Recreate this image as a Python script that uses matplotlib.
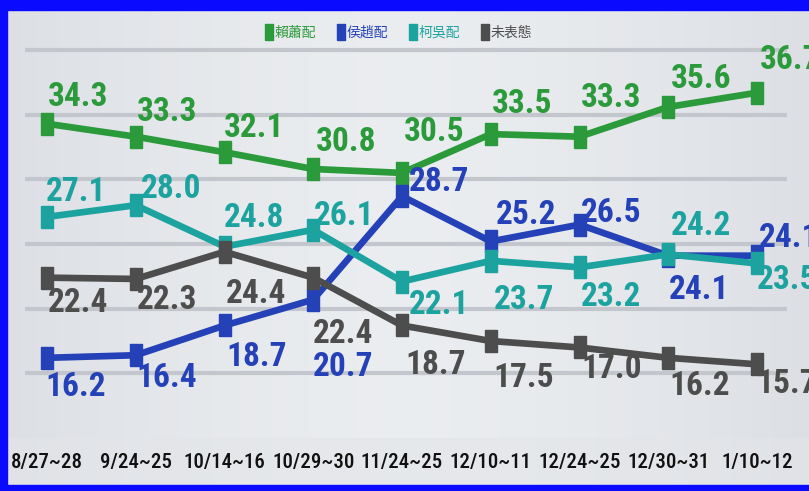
import numpy as np
import matplotlib.pyplot as plt
from matplotlib import font_manager as fm
from matplotlib.lines import Line2D
from matplotlib.patches import Rectangle
from matplotlib.path import Path

# 民調資料
fechas = ["8/27~28", "9/24~25", "10/14~16", "10/29~30", "11/24~25",
          "12/10~11", "12/24~25", "12/30~31", "1/10~12"]
nombres = ["賴蕭配", "侯趙配", "柯吳配", "未表態"]
lai = [34.3, 33.3, 32.1, 30.8, 30.5, 33.5, 33.3, 35.6, 36.7]
hou = [16.2, 16.4, 18.7, 20.7, 28.7, 25.2, 26.5, 24.1, 24.1]
ko = [27.1, 28.0, 24.8, 26.1, 22.1, 23.7, 23.2, 24.2, 23.5]
nada = [22.4, 22.3, 24.4, 22.4, 18.7, 17.5, 17.0, 16.2, 15.7]

colores = ["#2b9a3b", "#2541b8", "#1ca3a0", "#4d4d4d"]
series = [lai, hou, ko, nada]

# desplazamiento de las etiquetas (pixeles)
desp = [
    [(31, 27), (31, 25), (30, 24), (33, 27), (32, 41), (31, 30), (32, 39), (33, 28), (33, 33)],
    [(29, -29), (31, -23), (32, -32), (30, -67), (37, 14), (35, 26), (32, 12), (31, -34), (32, 18)],
    [(29, 25), (35, 16), (30, 29), (31, 14), (37, -23), (33, -39), (32, -30), (33, 28), (30, -17)],
    [(31, -25), (31, -21), (32, -42), (30, -56), (34, -40), (33, -37), (32, -22), (31, -28), (30, -20)],
]

# buscar una fuente estrecha
disponibles = {f.name for f in fm.fontManager.ttflist}
condensadas = [f for f in fm.fontManager.ttflist
               if "condensed" in str(f.stretch).lower() or "Condensed" in f.fname]
if "Liberation Sans Narrow" in disponibles:
    fuente, estiramiento, tam_num, tam_x = "Liberation Sans Narrow", "normal", 24, 15
elif "Roboto Condensed" in disponibles:
    fuente, estiramiento, tam_num, tam_x = "Roboto Condensed", "normal", 24, 15
elif any(f.name == "DejaVu Sans" for f in condensadas):
    fuente, estiramiento, tam_num, tam_x = "DejaVu Sans", "condensed", 21, 13
else:
    fuente, estiramiento, tam_num, tam_x = "DejaVu Sans", "normal", 18, 12

# marcador rectangular (mas alto que ancho)
rect = Path([(-6, -11), (6, -11), (6, 11), (-6, 11), (-6, -11)])

fig = plt.figure(figsize=(8.09, 4.91), dpi=100)
fig.patch.set_facecolor("#dcdfe5")

# fondo degradado
bg = fig.add_axes([0, 0, 1, 1], zorder=0)
xx = np.linspace(-1, 1, 400)
grad = 1 - 0.55 * np.abs(xx) ** 1.5
img = np.zeros((2, 400, 3))
c1 = np.array([0.82, 0.83, 0.86])
c2 = np.array([0.92, 0.93, 0.94])
for k in range(3):
    img[:, :, k] = c1[k] + (c2[k] - c1[k]) * grad
bg.imshow(img, aspect="auto", extent=[0, 1, 0, 1])
bg.add_patch(Rectangle((0, 0), 1, 53 / 491, color="#e3e5e9", alpha=0.6))
bg.set_xlim(0, 1)
bg.set_ylim(0, 1)
bg.axis("off")

ax = fig.add_axes([0, 53 / 491, 1, 438 / 491], zorder=1)
ax.patch.set_alpha(0)
x = np.arange(len(fechas))
ax.set_xlim(-47 / 88.75, 8 + 52 / 88.75)
ax.set_ylim(10, 43.87)

ax.hlines([15, 20, 25, 30, 35, 40], -0.25, 8.34, color="#c3c6cc", lw=3, zorder=1)

for s, col, d in zip(series, colores, desp):
    ax.plot(x, s, color=col, lw=4.8, marker=rect, markersize=16,
            solid_joinstyle="miter", zorder=3)
    for xi, v, (dx, dy) in zip(x, s, d):
        ax.annotate(f"{v:.1f}", (xi, v), xytext=(dx, dy), textcoords="offset pixels",
                    ha="center", va="center", color=col, fontsize=tam_num,
                    family=fuente, fontstretch=estiramiento, fontweight="bold",
                    annotation_clip=False, zorder=4)

ax.set_xticks(x)
ax.set_xticklabels(fechas, family=fuente, fontstretch=estiramiento,
                   fontsize=tam_x, fontweight="medium", color="#111111")
ax.tick_params(axis="x", length=0, pad=11)
ax.set_yticks([])
for sp in ax.spines.values():
    sp.set_visible(False)

handles = [Line2D([], [], color=c, marker=rect, ls="none", markersize=11) for c in colores]
leg = ax.legend(handles, nombres, loc="center", bbox_to_anchor=(0.49, 1 - 33 / 438),
                ncol=4, frameon=False, handletextpad=-0.2, handlelength=1.2,
                columnspacing=1.2,
                prop={"family": ["Noto Sans CJK TC", "DejaVu Sans"], "size": 10,
                      "weight": "medium"})
for t, c in zip(leg.get_texts(), colores):
    t.set_color(c)

# marco azul
for r in [(0, 0, 7 / 809, 1), (0, 1 - 10 / 491, 1, 10 / 491), (0, 0, 1, 6 / 491)]:
    fig.patches.append(Rectangle(r[:2], r[2], r[3], transform=fig.transFigure,
                                 color="#0a0aff", zorder=10))

fig.savefig("out.png", dpi=100)
